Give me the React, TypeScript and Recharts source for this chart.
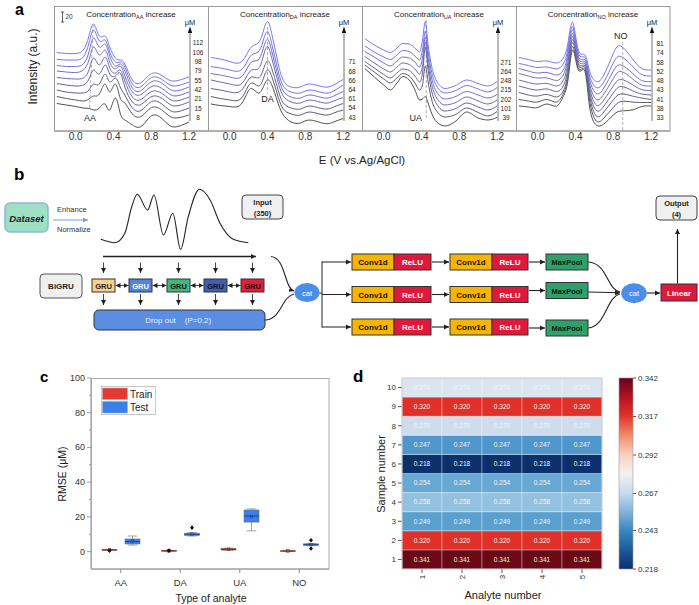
import React from "react";
import { LineChart, Line, XAxis, YAxis, ReferenceLine, ComposedChart, Bar, BarChart, LabelList } from "recharts";

const FONT = '"Liberation Sans", Arial, Helvetica, sans-serif';

// ---------- panel a : stacked voltammograms (intensity, a.u.) ----------
const aaGrid = [-0.2, -0.1, 0.0, 0.08, 0.14, 0.19, 0.25, 0.31, 0.36, 0.42, 0.47, 0.52, 0.6, 0.7, 0.82, 0.95, 1.05, 1.2];
const aa112 = [157, 155, 155, 162, 190, 214, 190, 190, 168, 146, 142, 134, 102, 98, 116, 106, 100, 108];
const aa106 = [143, 142, 142, 148, 176, 202, 180, 182, 158, 138, 138, 128, 94, 90, 108, 98, 90, 98];
const aa98 = [131, 129, 129, 134, 158, 186, 168, 174, 150, 130, 134, 120, 86, 82, 100, 90, 80, 88];
const aa79 = [120, 118, 117, 122, 142, 168, 152, 162, 138, 124, 130, 110, 78, 74, 90, 80, 70, 78];
const aa55 = [107, 105, 104, 106, 122, 146, 132, 148, 126, 116, 122, 100, 68, 64, 80, 70, 60, 68];
const aa42 = [95, 92, 90, 92, 104, 122, 114, 132, 114, 110, 116, 88, 58, 54, 70, 60, 50, 58];
const aa21 = [82, 78, 76, 76, 82, 94, 94, 114, 98, 106, 88, 72, 46, 42, 60, 48, 38, 46];
const aa15 = [69, 65, 62, 60, 64, 70, 74, 94, 78, 94, 66, 56, 34, 30, 48, 36, 26, 32];
const aa8 = [55, 52, 49, 46, 45, 42, 46, 54, 42, 66, 36, 22, 12, 10, 32, 18, 8, 18];
const aaConc = [8, 15, 21, 42, 55, 79, 98, 106, 112];

const daGrid = [-0.2, -0.1, 0.0, 0.1, 0.17, 0.23, 0.3, 0.35, 0.4, 0.45, 0.5, 0.56, 0.65, 0.75, 0.85, 1.0, 1.1, 1.2];
const da71 = [147, 144, 139, 136, 150, 168, 176, 196, 219, 190, 146, 104, 88, 88, 94, 88, 92, 103];
const da68 = [129, 126, 122, 120, 134, 152, 158, 178, 199, 170, 130, 92, 78, 76, 82, 76, 80, 92];
const da66 = [115, 112, 108, 106, 120, 138, 142, 162, 183, 156, 118, 82, 68, 66, 72, 66, 70, 79];
const da64 = [102, 98, 94, 92, 106, 122, 124, 146, 169, 142, 106, 72, 58, 56, 62, 56, 60, 67];
const da61 = [85, 82, 78, 78, 94, 108, 106, 120, 140, 122, 90, 58, 46, 44, 50, 44, 48, 55];
const da54 = [69, 65, 62, 62, 80, 96, 90, 102, 122, 106, 76, 46, 34, 32, 38, 32, 36, 42];
const da43 = [54, 51, 49, 50, 70, 85, 76, 86, 102, 90, 62, 34, 18, 16, 22, 15, 18, 25];
const daConc = [43, 54, 61, 64, 66, 68, 71];

const uaGrid = [-0.2, -0.1, 0.0, 0.07, 0.14, 0.2, 0.27, 0.33, 0.38, 0.41, 0.44, 0.47, 0.5, 0.56, 0.65, 0.75, 0.88, 1.0, 1.1, 1.2];
const ua271 = [185, 172, 162, 157, 166, 175, 174, 166, 158, 182, 219, 172, 136, 100, 85, 90, 102, 95, 90, 99];
const ua264 = [170, 158, 148, 143, 152, 161, 159, 150, 142, 162, 200, 158, 124, 90, 76, 80, 91, 84, 78, 87];
const ua248 = [159, 148, 136, 130, 140, 148, 146, 138, 128, 146, 188, 146, 112, 78, 64, 68, 79, 72, 66, 73];
const ua215 = [149, 136, 124, 118, 128, 136, 133, 124, 114, 130, 178, 134, 100, 66, 52, 56, 68, 60, 54, 62];
const ua202 = [139, 126, 113, 106, 116, 124, 121, 110, 98, 114, 168, 122, 86, 54, 40, 44, 56, 48, 42, 50];
const ua101 = [132, 118, 104, 96, 106, 115, 110, 96, 82, 92, 130, 98, 68, 40, 28, 32, 46, 37, 30, 39];
const ua39 = [125, 108, 92, 82, 96, 109, 102, 82, 62, 64, 69, 56, 39, 18, 10, 18, 38, 26, 22, 27];
const uaConc = [39, 101, 202, 215, 248, 264, 271];

const noGrid = [-0.2, -0.1, 0.0, 0.1, 0.2, 0.27, 0.32, 0.37, 0.43, 0.5, 0.55, 0.62, 0.7, 0.8, 0.88, 1.0, 1.1, 1.2];
const no81 = [147, 143, 139, 140, 136, 146, 176, 217, 162, 152, 119, 99, 112, 155, 170, 145, 125, 122];
const no74 = [135, 131, 127, 128, 124, 134, 166, 209, 156, 147, 110, 87, 98, 136, 149, 130, 113, 110];
const no58 = [125, 120, 116, 117, 112, 122, 156, 202, 150, 142, 102, 75, 86, 120, 132, 116, 101, 99];
const no52 = [115, 110, 106, 106, 101, 112, 148, 195, 145, 138, 94, 63, 74, 105, 119, 105, 92, 90];
const no48 = [102, 97, 94, 95, 90, 101, 138, 189, 140, 134, 86, 52, 62, 90, 103, 93, 83, 81];
const no43 = [90, 85, 82, 84, 79, 90, 128, 183, 135, 130, 78, 41, 50, 76, 89, 81, 74, 72];
const no41 = [77, 72, 70, 73, 68, 80, 118, 177, 131, 127, 70, 30, 38, 62, 74, 70, 66, 63];
const no38 = [63, 60, 58, 63, 58, 74, 110, 169, 126, 123, 60, 20, 26, 47, 59, 58, 57, 57];
const no33 = [50, 48, 47, 54, 50, 69, 102, 162, 122, 119, 47, 12, 14, 32, 40, 42, 49, 50];
const noConc = [33, 38, 41, 43, 48, 52, 58, 74, 81];

// ---------- panel b : the input signal sketch ----------
const inputIdx = [2, 35, 58, 74, 87, 111, 126, 148, 170, 188, 206, 232, 257, 280, 311, 346];
const inputAmp = [10.7, 7.3, 16.7, 43.3, 55.7, 40, 55, 15, 36.7, 0.7, 33.3, 60.7, 50, 26.7, 10.7, 7.3];

// ---------- panel c : RMSE box plots ----------
const analytes = ["AA", "DA", "UA", "NO"];
const trainMin = [0.7, 0.2, 0.8, 0.1];
const trainQ1 = [0.8, 0.3, 0.9, 0.2];
const trainMed = [1.0, 0.45, 1.4, 0.35];
const trainQ3 = [1.2, 0.6, 1.9, 0.5];
const trainMax = [1.3, 0.7, 2.0, 0.6];
const trainMean = [1.0, 0.45, 1.4, 0.35];
const trainOut = [[0.5], [0.6], [], []];
const testMin = [3.8, 9.0, 12.0, 3.4];
const testQ1 = [4.4, 9.3, 17.0, 3.6];
const testMed = [5.8, 10.0, 20.5, 4.0];
const testQ3 = [7.3, 10.6, 24.0, 4.5];
const testMax = [9.0, 11.0, 24.6, 4.7];
const testMean = [6.2, 10.0, 20.2, 4.1];
const testOut = [[], [13.8], [], [6.6, 1.8]];

// ---------- panel d : heat map ----------
const analyteNums = ["1", "2", "3", "4", "5"];
const sampleValues = [0.341, 0.32, 0.249, 0.258, 0.254, 0.218, 0.247, 0.27, 0.32, 0.274];
const sampleColors = ["#6a0818", "#df3129", "#59a0cf", "#92c2df", "#68a9d4", "#0c306c", "#4f97ca", "#cedcee", "#df3129", "#dae5f2"];
const cbTicks = [0.218, 0.243, 0.267, 0.292, 0.317, 0.342];

const CURVE9 = ["#505050", "#585868", "#60607f", "#666696", "#6b6bad", "#7070c3", "#7373d7", "#7676e8", "#7878f6"];
const CURVE7 = ["#505050", "#5b5b73", "#646492", "#6b6bb0", "#7171cb", "#7575e2", "#7878f6"];

const X_DOMAIN = [-0.23, 1.4];
const PX_PER_V = 154 / (X_DOMAIN[1] - X_DOMAIN[0]);

const specPanels = [
  { id: "AA", left: 54, curve: "natural", grid: aaGrid, series: [aa8, aa15, aa21, aa42, aa55, aa79, aa98, aa106, aa112], conc: aaConc, labelBottom: 117.5, labelStep: 9.33, seg: [[0.185, 212], [0.145, 42]], peakV: 0.15, peakY: 118 },
  { id: "DA", left: 208, curve: "natural", grid: daGrid, series: [da43, da54, da61, da64, da66, da68, da71], conc: daConc, labelBottom: 117, labelStep: 9.17, seg: [[0.4, 208], [0.4, 76]], peakV: 0.4, peakY: 98.5 },
  { id: "UA", left: 362, curve: "monotone", grid: uaGrid, series: [ua39, ua101, ua202, ua215, ua248, ua264, ua271], conc: uaConc, labelBottom: 117.5, labelStep: 9.17, seg: [[0.45, 222], [0.45, 26]], peakV: 0.34, peakY: 118 },
  { id: "NO", left: 516, curve: "natural", grid: noGrid, series: [no33, no38, no41, no43, no48, no52, no58, no74, no81], conc: noConc, labelBottom: 117.5, labelStep: 9.25, seg: [[0.9, 178], [0.9, 2]], peakV: 0.88, peakY: 36 },
];

const specRows = (grid: number[], series: number[][]) =>
  grid.map((v, i) => {
    const row: any = { v };
    series.forEach((s, k) => { row["c" + k] = s[i]; });
    return row;
  });

const SpecChart = ({ p }: { p: any }) => {
  const colors = p.series.length === 9 ? CURVE9 : CURVE7;
  return (
    <div style={{ position: "absolute", left: p.left, top: 6 }}>
      <LineChart width={154} height={139} data={specRows(p.grid, p.series)} margin={{ top: 0, right: 0, bottom: 0, left: 0 }}>
        <XAxis type="number" dataKey="v" domain={X_DOMAIN} ticks={[0, 0.4, 0.8, 1.2]} tickFormatter={(t: number) => t.toFixed(1)}
          height={14} tickLine={false} tickSize={0} tickMargin={2} axisLine={{ stroke: "#8c8c8c" }}
          tick={{ fontSize: 10, fill: "#333", fontFamily: FONT }} allowDataOverflow />
        <YAxis hide domain={[0, 250]} />
        <ReferenceLine segment={[{ x: p.seg[0][0], y: p.seg[0][1] }, { x: p.seg[1][0], y: p.seg[1][1] }]} stroke="#9a9a9a" strokeDasharray="3 2" strokeWidth={0.8} />
        {p.series.map((_: number[], k: number) => (
          <Line key={k} dataKey={"c" + k} type={p.curve} stroke={colors[k]} strokeWidth={1} dot={false} isAnimationActive={false} />
        ))}
      </LineChart>
    </div>
  );
};

// ---------- box plot helpers ----------
const BOX: any = {
  train: { lo: trainMin, q1: trainQ1, med: trainMed, q3: trainQ3, hi: trainMax, mean: trainMean, out: trainOut, fill: "#e53a33", edge: "#7a1b17" },
  test: { lo: testMin, q1: testQ1, med: testMed, q3: testQ3, hi: testMax, mean: testMean, out: testOut, fill: "#3a7fec", edge: "#1d3f7a" },
};

const BoxShape = (props: any) => {
  const { x, y, width, height, kind, payload } = props;
  const s = BOX[kind];
  const i = analytes.indexOf(payload.name);
  const q1 = s.q1[i];
  const q3 = s.q3[i];
  const ppu = height / (q3 - q1);
  const yOf = (v: number) => y + height - (v - q1) * ppu;
  const cx = x + width / 2;
  const cap = width * 0.32;
  return (
    <g>
      <line x1={cx} x2={cx} y1={yOf(q3)} y2={yOf(s.hi[i])} stroke="#8a8a8a" strokeWidth={0.8} />
      <line x1={cx} x2={cx} y1={yOf(q1)} y2={yOf(s.lo[i])} stroke="#8a8a8a" strokeWidth={0.8} />
      <line x1={cx - cap} x2={cx + cap} y1={yOf(s.hi[i])} y2={yOf(s.hi[i])} stroke="#8a8a8a" strokeWidth={0.8} />
      <line x1={cx - cap} x2={cx + cap} y1={yOf(s.lo[i])} y2={yOf(s.lo[i])} stroke="#8a8a8a" strokeWidth={0.8} />
      <rect x={x} y={y} width={width} height={Math.max(height, 0.6)} fill={s.fill} stroke="#7a7a7a" strokeWidth={0.6} />
      <line x1={x} x2={x + width} y1={yOf(s.med[i])} y2={yOf(s.med[i])} stroke={s.edge} strokeWidth={0.9} />
      <rect x={cx - 1.3} y={yOf(s.mean[i]) - 1.3} width={2.6} height={2.6} fill="none" stroke={s.edge} strokeWidth={0.5} />
      {s.out[i].map((o: number, k: number) => {
        const oy = yOf(o);
        return <path key={k} d={`M${cx},${oy - 2.3}L${cx + 2},${oy}L${cx},${oy + 2.3}L${cx - 2},${oy}Z`} fill="#111" />;
      })}
    </g>
  );
};

const RmseTick = (props: any) => {
  const { x, y, payload } = props;
  const major = payload.value % 20 === 0;
  return (
    <g>
      <line x1={x + 2 + (major ? 0 : 2)} x2={x + 6} y1={y} y2={y} stroke="#888" strokeWidth={0.8} />
      {major && (
        <text x={x} y={y} textAnchor="end" dominantBaseline="central" fontSize={9} fill="#333" fontFamily={FONT}>{payload.value}</text>
      )}
    </g>
  );
};

const RotTick = (props: any) => {
  const { x, y, payload } = props;
  return (
    <text x={x} y={y + 4} transform={`rotate(-90 ${x} ${y + 4})`} textAnchor="middle" dominantBaseline="central" fontSize={8} fill="#333" fontFamily={FONT}>
      {payload.value}
    </text>
  );
};

const boxRows = analytes.map((name, i) => ({
  name,
  trBase: trainQ1[i], trBox: trainQ3[i] - trainQ1[i],
  teBase: testQ1[i], teBox: testQ3[i] - testQ1[i],
}));

const heatRows = analyteNums.map((a) => {
  const row: any = { analyte: a };
  sampleValues.forEach((_, k) => { row["s" + (k + 1)] = 1; });
  return row;
});

const inputRows = inputIdx.map((t, i) => ({ t, a: inputAmp[i] }));

// ---------- diagram pieces (panel b) ----------
const Box = ({ x, y, w, h, fill, text, color = "#111", bold = true, size = 8, rx = 0, stroke = "#333" }: any) => (
  <g>
    <rect x={x} y={y} width={w} height={h} rx={rx} fill={fill} stroke={stroke} strokeWidth={1} />
    <text x={x + w / 2} y={y + h / 2 + 0.5} textAnchor="middle" dominantBaseline="central" fontSize={size} fontWeight={bold ? 700 : 400} fill={color} fontFamily={FONT}>{text}</text>
  </g>
);

const gruLefts = [92, 129, 167, 204, 241];
const gruFills = ["#f9cf8c", "#4d86e0", "#3cba7b", "#3e5fb3", "#e0203c"];
const gruText = ["#222", "#fff", "#111", "#111", "#2a0508"];
const convRows = [262, 294.5, 327];
const poolRows = [262, 290.5, 328];

export default function App() {
  return (
    <div style={{ position: "relative", width: 699, height: 605, background: "#fff", fontFamily: FONT, overflow: "hidden" }}>
      <style>{`body{margin:0}`}</style>

      {specPanels.map((p) => <SpecChart key={p.id} p={p} />)}

      {/* panel b input signal */}
      <div style={{ position: "absolute", left: 100, top: 188 }}>
        <LineChart width={150} height={62} data={inputRows} margin={{ top: 0, right: 0, bottom: 0, left: 0 }}>
          <XAxis type="number" dataKey="t" domain={[0, 350]} hide />
          <YAxis hide domain={[0, 62]} />
          <Line dataKey="a" type="monotone" stroke="#222" strokeWidth={1.1} dot={false} isAnimationActive={false} />
        </LineChart>
      </div>

      {/* panel c */}
      <div style={{ position: "absolute", left: 30, top: 372 }}>
        <ComposedChart width={305} height={225} data={boxRows} margin={{ top: 6, right: 6, bottom: 0, left: 0 }} barSize={15} barGap={8}>
          <XAxis dataKey="name" height={28} tickSize={4} tickMargin={6} interval={0} axisLine={{ stroke: "#888" }} tickLine={{ stroke: "#888" }}
            tick={{ fontSize: 9.5, fill: "#333", fontFamily: FONT }} />
          <YAxis width={61} domain={[-10, 100]} ticks={[0, 10, 20, 30, 40, 50, 60, 70, 80, 90, 100]} interval={0} allowDataOverflow
            tickLine={false} tickSize={4} tickMargin={2} axisLine={{ stroke: "#888" }} tick={(t: any) => <RmseTick {...t} />} />
          <Bar dataKey="trBase" stackId="tr" fill="none" isAnimationActive={false} />
          <Bar dataKey="trBox" stackId="tr" fill="#e53a33" isAnimationActive={false} shape={(b: any) => <BoxShape {...b} kind="train" />} />
          <Bar dataKey="teBase" stackId="te" fill="none" isAnimationActive={false} />
          <Bar dataKey="teBox" stackId="te" fill="#3a7fec" isAnimationActive={false} shape={(b: any) => <BoxShape {...b} kind="test" />} />
        </ComposedChart>
      </div>

      {/* panel d heat map */}
      <div style={{ position: "absolute", left: 350, top: 370 }}>
        <BarChart width={260} height={235} data={heatRows} margin={{ top: 8, right: 8, bottom: 0, left: 0 }} barCategoryGap={0}>
          <XAxis dataKey="analyte" height={36} tickSize={4} tickMargin={0} interval={0} axisLine={false} tickLine={{ stroke: "#555" }} tick={(t: any) => <RotTick {...t} />} />
          <YAxis width={52} type="number" domain={[0, 10]} ticks={[0.5, 1.5, 2.5, 3.5, 4.5, 5.5, 6.5, 7.5, 8.5, 9.5]} interval={0}
            tickFormatter={(t: number) => String(t + 0.5)} tickSize={4} tickMargin={2} axisLine={false} tickLine={{ stroke: "#555" }}
            tick={{ fontSize: 8, fill: "#333", fontFamily: FONT }} />
          {sampleValues.map((v, k) => (
            <Bar key={k} dataKey={"s" + (k + 1)} stackId="h" fill={sampleColors[k]} stroke="#ffffff" strokeOpacity={0.55} strokeWidth={0.6} isAnimationActive={false}>
              <LabelList position="center" formatter={() => v.toFixed(3)} fill="#f4f4f4" fontSize={6.5} fontFamily={FONT} />
            </Bar>
          ))}
        </BarChart>
      </div>

      {/* colour bar */}
      <div style={{ position: "absolute", left: 612, top: 370 }}>
        <BarChart width={87} height={235} data={[{ name: "cb", range: [0.218, 0.342] }]} margin={{ top: 8, right: 0, bottom: 36, left: 7 }} barCategoryGap={0}>
          <defs>
            <linearGradient id="rdbu" x1="0" y1="0" x2="0" y2="1">
              <stop offset="0%" stopColor="#67001f" />
              <stop offset="10%" stopColor="#b5121f" />
              <stop offset="20%" stopColor="#e0352b" />
              <stop offset="30%" stopColor="#f08a6c" />
              <stop offset="40%" stopColor="#f8cfbf" />
              <stop offset="50%" stopColor="#f4f2f1" />
              <stop offset="60%" stopColor="#c6dbed" />
              <stop offset="70%" stopColor="#7fb5da" />
              <stop offset="80%" stopColor="#3a86c0" />
              <stop offset="90%" stopColor="#1b5a9c" />
              <stop offset="100%" stopColor="#0b2f6c" />
            </linearGradient>
          </defs>
          <XAxis dataKey="name" hide />
          <YAxis orientation="right" width={66} domain={[0.218, 0.342]} ticks={cbTicks} interval={0} allowDataOverflow
            tickFormatter={(t: number) => t.toFixed(3)} axisLine={false} tickSize={3} tickMargin={2} tickLine={{ stroke: "#555" }}
            tick={{ fontSize: 8, fill: "#333", fontFamily: FONT }} />
          <Bar dataKey="range" fill="url(#rdbu)" isAnimationActive={false} />
        </BarChart>
      </div>

      {/* overlay: frames, annotations, diagram */}
      <svg width={699} height={605} style={{ position: "absolute", left: 0, top: 0, pointerEvents: "none" }} fontFamily={FONT}>
        <defs>
          <marker id="ah" markerUnits="userSpaceOnUse" markerWidth="6" markerHeight="6" refX="5" refY="3" orient="auto-start-reverse">
            <path d="M0,0.5 L5,3 L0,5.5 z" fill="#222" />
          </marker>
          <marker id="ahb" markerUnits="userSpaceOnUse" markerWidth="6" markerHeight="6" refX="5" refY="3" orient="auto">
            <path d="M0,0.5 L5,3 L0,5.5 z" fill="#6fa0e8" />
          </marker>
        </defs>

        {/* panel labels */}
        <text x={15} y={15} fontSize={16} fontWeight={700}>a</text>
        <text x={14} y={180} fontSize={17} fontWeight={700}>b</text>
        <text x={40} y={382} fontSize={15} fontWeight={700}>c</text>
        <text x={353} y={382} fontSize={17} fontWeight={700}>d</text>

        {/* panel a frames */}
        <rect x={54.5} y={6.5} width={615.5} height={124.5} fill="none" stroke="#9a9a9a" strokeWidth={1} />
        {[208.5, 362.5, 516.5].map((x) => <line key={x} x1={x} x2={x} y1={6.5} y2={131} stroke="#9a9a9a" strokeWidth={1} />)}
        <text transform="translate(37 66.5) rotate(-90)" textAnchor="middle" fontSize={12} fill="#222">Intensity (a.u.)</text>
        <text x={362} y={164} textAnchor="middle" fontSize={11.5} fill="#222">E (V vs.Ag/AgCl)</text>
        <line x1={62.5} x2={62.5} y1={12} y2={22} stroke="#333" strokeWidth={0.8} />
        <line x1={61} x2={64} y1={12} y2={12} stroke="#333" strokeWidth={0.8} />
        <line x1={61} x2={64} y1={22} y2={22} stroke="#333" strokeWidth={0.8} />
        <text x={65.5} y={19} fontSize={6.5} fill="#333">20</text>
        {specPanels.map((p) => (
          <g key={p.id}>
            <text x={p.left + 77} y={17} textAnchor="middle" fontSize={8} fill="#222">
              Concentration<tspan fontSize={5.5} dy={2}>{p.id}</tspan><tspan dy={-2}> increase</tspan>
            </text>
            <text x={p.left + 136} y={25} textAnchor="middle" fontSize={7.5} fill="#222">μM</text>
            <line x1={p.left + 136} x2={p.left + 136} y1={121} y2={31} stroke="#8a8a8a" strokeWidth={1.2} />
            <path d={`M${p.left + 133.8},${33} L${p.left + 138.2},${33} L${p.left + 136},${26.5} Z`} fill="#111" />
            {p.conc.map((c: number, k: number) => (
              <text key={c} x={p.left + 144} y={p.labelBottom - k * p.labelStep} textAnchor="middle" dominantBaseline="central" fontSize={6.5} fill="#222">{c}</text>
            ))}
            <text x={p.left + (p.peakV - X_DOMAIN[0]) * PX_PER_V} y={p.peakY} textAnchor="middle" dominantBaseline="central" fontSize={9} fill="#222">{p.id}</text>
          </g>
        ))}

        {/* panel b diagram */}
        <rect x={5} y={203} width={43} height={29} rx={5} fill="#9fdfc3" stroke="#8cb6e6" strokeWidth={1.5} />
        <text x={26.5} y={218} textAnchor="middle" dominantBaseline="central" fontSize={9.5} fontWeight={700} fontStyle="italic" fill="#222">Dataset</text>
        <text x={57} y={212} fontSize={7.5} fill="#333">Enhance</text>
        <line x1={53} x2={88} y1={220} y2={220} stroke="#6fa0e8" strokeWidth={1} markerEnd="url(#ahb)" />
        <text x={57} y={232} fontSize={7.5} fill="#333">Normalize</text>

        <rect x={242} y={195} width={41} height={24} rx={4} fill="#f0f0f0" stroke="#444" strokeWidth={1} />
        <text x={262.5} y={205} textAnchor="middle" fontSize={7.5} fontWeight={700} fill="#222">Input</text>
        <text x={262.5} y={215.5} textAnchor="middle" fontSize={7.5} fontWeight={700} fill="#222">(350)</text>

        <line x1={103} x2={256} y1={256.5} y2={256.5} stroke="#222" strokeWidth={1.3} markerEnd="url(#ah)" />
        <Box x={40} y={274} w={42} h={24} rx={4} fill="#efefef" stroke="#555" text="BiGRU" size={8} color="#222" />
        {gruLefts.map((l, k) => (
          <g key={l}>
            <line x1={l + 11.5} x2={l + 11.5} y1={262.5} y2={273} stroke="#333" strokeWidth={0.9} markerEnd="url(#ah)" />
            <line x1={l + 11.5} x2={l + 11.5} y1={294} y2={305} stroke="#333" strokeWidth={0.9} markerEnd="url(#ah)" />
            <Box x={l} y={279} w={23} h={13} fill={gruFills[k]} text="GRU" size={7.5} color={gruText[k]} />
            {k < 4 && <line x1={l + 23.5} x2={gruLefts[k + 1] - 0.5} y1={285.5} y2={285.5} stroke="#333" strokeWidth={0.9} markerStart="url(#ah)" markerEnd="url(#ah)" />}
          </g>
        ))}
        <rect x={94} y={310} width={171} height={20} rx={5} fill="#5b8ee3" stroke="#333" strokeWidth={1} />
        <text x={160.5} y={320.5} textAnchor="middle" dominantBaseline="central" fontSize={8} fill="#e3ebf9">Drop out</text>
        <text x={198} y={320.5} textAnchor="middle" dominantBaseline="central" fontSize={8} fill="#e3ebf9">(P=0.2)</text>

        <path d="M271,256.5 C286,258 284,288 294,291" fill="none" stroke="#222" strokeWidth={1.1} markerEnd="url(#ah)" />
        <path d="M265,320 C282,319 281,297 294,294" fill="none" stroke="#222" strokeWidth={1.1} />
        <ellipse cx={307} cy={292.5} rx={12.5} ry={9.5} fill="#4a8eea" />
        <text x={307} y={293} textAnchor="middle" dominantBaseline="central" fontSize={7.5} fill="#fff">cat</text>
        <line x1={319.5} x2={322} y1={293} y2={293} stroke="#222" strokeWidth={1} />
        <line x1={322} x2={322} y1={261.5} y2={327.5} stroke="#222" strokeWidth={1} />
        {convRows.map((cy, k) => (
          <g key={cy}>
            <line x1={322} x2={351} y1={cy} y2={cy} stroke="#222" strokeWidth={1} markerEnd="url(#ah)" />
            <Box x={352} y={cy - 8} w={42} h={16} fill="#f7b500" text="Conv1d" size={8} />
            <Box x={394} y={cy - 8} w={37} h={16} fill="#e0193a" text="ReLU" size={8} color="#fff" />
            <line x1={432} x2={449} y1={cy} y2={cy} stroke="#222" strokeWidth={1.1} markerEnd="url(#ah)" />
            <Box x={450} y={cy - 8} w={42} h={16} fill="#f7b500" text="Conv1d" size={8} />
            <Box x={492} y={cy - 8} w={36} h={16} fill="#e0193a" text="ReLU" size={8} color="#fff" />
            <line x1={529} x2={545} y1={poolRows[k]} y2={poolRows[k]} stroke="#222" strokeWidth={1.1} markerEnd="url(#ah)" />
            <Box x={546} y={poolRows[k] - 8} w={42} h={16} fill="#2f9f6c" text="MaxPool" size={7.5} color="#0d1a12" />
          </g>
        ))}
        <path d="M588,262 C608,263 606,289 620,292" fill="none" stroke="#222" strokeWidth={1.1} />
        <line x1={588} x2={620} y1={292} y2={292.8} stroke="#222" strokeWidth={1.1} markerEnd="url(#ah)" />
        <path d="M588,328 C606,327 606,297 620,294" fill="none" stroke="#222" strokeWidth={1.1} />
        <ellipse cx={634} cy={293.3} rx={12.8} ry={10} fill="#4a8eea" />
        <text x={634} y={293.8} textAnchor="middle" dominantBaseline="central" fontSize={7.5} fill="#fff">cat</text>
        <line x1={647} x2={660} y1={293} y2={293} stroke="#222" strokeWidth={1.1} markerEnd="url(#ah)" />
        <Box x={661} y={284} w={36} h={17} fill="#e0193a" text="Linear" size={8} color="#fff" />
        <line x1={677.5} x2={677.5} y1={283.5} y2={229} stroke="#222" strokeWidth={1.1} markerEnd="url(#ah)" />
        <rect x={656} y={196} width={41} height={24} rx={4} fill="#f0f0f0" stroke="#444" strokeWidth={1} />
        <text x={676.5} y={206} textAnchor="middle" fontSize={7.5} fontWeight={700} fill="#222">Output</text>
        <text x={676.5} y={216.5} textAnchor="middle" fontSize={7.5} fontWeight={700} fill="#222">(4)</text>

        {/* panel c frame, legend and titles */}
        <rect x={91.5} y={378.5} width={237.5} height={190.5} fill="none" stroke="#aaa" strokeWidth={1} />
        <rect x={101.5} y={386.5} width={54} height={28} fill="#fff" stroke="#bbb" strokeWidth={0.8} />
        <rect x={102.5} y={388} width={25} height={11.5} fill="#e53a33" stroke="#aaa" strokeWidth={0.5} />
        <rect x={102.5} y={401.5} width={25} height={11.5} fill="#3a7fec" stroke="#aaa" strokeWidth={0.5} />
        <text x={130} y={394} dominantBaseline="central" fontSize={10} fill="#222">Train</text>
        <text x={130} y={407.5} dominantBaseline="central" fontSize={10} fill="#222">Test</text>
        <text transform="translate(62 474) rotate(-90)" textAnchor="middle" dominantBaseline="central" fontSize={10.5} fill="#222">RMSE (μM)</text>
        <text x={211} y={598} textAnchor="middle" dominantBaseline="central" fontSize={10.5} fill="#222">Type of analyte</text>

        {/* panel d frame and titles */}
        <rect x={402} y={378} width={200} height={191} fill="none" stroke="#c8c8c8" strokeWidth={1} />
        <rect x={619} y={378} width={14} height={191} fill="none" stroke="#999" strokeWidth={0.6} />
        <text transform="translate(380.5 474) rotate(-90)" textAnchor="middle" dominantBaseline="central" fontSize={11} fill="#222">Sample number</text>
        <text x={503} y={594.5} textAnchor="middle" dominantBaseline="central" fontSize={11} fill="#222">Analyte number</text>
      </svg>
    </div>
  );
}
